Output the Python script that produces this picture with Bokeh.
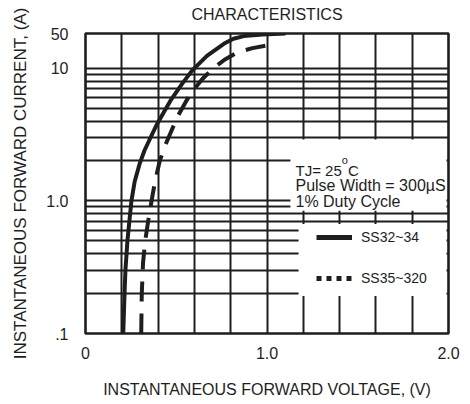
import numpy as np
from bokeh.plotting import figure
from bokeh.models import (Range1d, FixedTicker, BoxAnnotation, Label, Legend, LegendItem)
from bokeh.embed import file_html
from bokeh.resources import INLINE

# ---- data ----
ss32_v = [0.208, 0.215, 0.220, 0.231, 0.253, 0.271, 0.298, 0.325, 0.363, 0.390,
          0.429, 0.468, 0.531, 0.587, 0.669, 0.762, 0.815, 0.872, 0.975, 1.102]
ss32_i = [0.1, 0.2, 0.3, 0.5, 1.0, 1.4, 1.9, 2.4, 3.1, 3.7,
          4.6, 5.7, 7.6, 9.6, 12.4, 15.3, 16.7, 17.5, 18.0, 18.3]

ss35_v = [0.307, 0.310, 0.317, 0.329, 0.345, 0.364, 0.383, 0.409, 0.438, 0.466,
          0.510, 0.556, 0.600, 0.644, 0.700, 0.766, 0.832, 0.920, 0.992]
ss35_i = [0.1, 0.2, 0.34, 0.5, 0.7, 1.0, 1.4, 2.0, 2.6, 3.2,
          4.4, 5.7, 7.0, 8.3, 9.9, 11.6, 13.1, 14.2, 14.8]

series_names = ["SS32~34", "SS35~320"]

x_ticks = [0, 1, 2]
x_tick_labels = ["0", "1.0", "2.0"]
x_minor = [0.2, 0.4, 0.6, 0.8, 1.2, 1.4, 1.6, 1.8]
y_top = 18.3
y_ticks = [0.1, 1, 10, y_top]
y_tick_labels = [".1", "1.0", "10", "50"]
y_minor = [0.2, 0.3, 0.4, 0.5, 0.6, 0.7, 0.8, 0.9, 2, 3, 4, 5, 6, 7, 8, 9]

INK = "#1e1e1e"
FONT = "Liberation Sans"

p = figure(width=466, height=413, output_backend="svg", toolbar_location=None,
           y_axis_type="log", x_range=Range1d(0, 2), y_range=Range1d(0.1, y_top),
           min_border_left=85, min_border_right=18, min_border_top=44, min_border_bottom=69,
           background_fill_color="white", border_fill_color="white")
p.margin = (-11, 0, 0, 0)

p.title.text = "CHARACTERISTICS"
p.title.text_font = FONT
p.title.text_font_size = "16px"
p.title.text_font_style = "normal"
p.title.text_color = INK
p.title.align = "center"
p.title.offset = -6
p.title.vertical_align = "top"
p.title.standoff = 17

p.outline_line_color = INK
p.outline_line_width = 2.6

# axes
p.xaxis.ticker = FixedTicker(ticks=x_ticks, minor_ticks=x_minor)
p.xaxis.major_label_overrides = dict(zip(x_ticks, x_tick_labels))
p.yaxis.ticker = FixedTicker(ticks=y_ticks, minor_ticks=y_minor)
p.yaxis.major_label_overrides = dict(zip(y_ticks, y_tick_labels))
p.xaxis.axis_label = "INSTANTANEOUS FORWARD VOLTAGE, (V)"
p.yaxis.axis_label = "INSTANTANEOUS FORWARD CURRENT, (A)"
for ax in (p.xaxis[0], p.yaxis[0]):
    ax.axis_line_color = None
    ax.major_tick_in = 0
    ax.major_tick_out = 0
    ax.minor_tick_in = 0
    ax.minor_tick_out = 0
    ax.major_label_text_font = FONT
    ax.major_label_text_font_size = "16px"
    ax.major_label_text_color = INK
    ax.axis_label_text_font = FONT
    ax.axis_label_text_font_style = "normal"
    ax.axis_label_text_color = INK
p.xaxis.axis_label_text_font_size = "16px"
p.yaxis.axis_label_text_font_size = "17px"
p.xaxis.major_label_standoff = 13
p.xaxis.axis_label_standoff = 19
p.yaxis.major_label_standoff = 17
p.yaxis.axis_label_standoff = 13

# grid
for g in (p.xgrid[0], p.ygrid[0]):
    g.grid_line_color = INK
    g.grid_line_width = 2
    g.minor_grid_line_color = INK
    g.minor_grid_line_width = 2

# curves
p.line(ss32_v, ss32_i, line_color=INK, line_width=4, line_join="round")
p.line(ss35_v, ss35_i, line_color=INK, line_width=4, line_dash="20 12", line_join="round")

# white boxes for annotation text and legend
p.add_layout(BoxAnnotation(left=1.129, right=1.989, bottom=0.841, top=2.909,
                           fill_color="white", fill_alpha=1, line_alpha=0))
p.add_layout(BoxAnnotation(left=1.174, right=1.989, bottom=0.192, top=0.671,
                           fill_color="white", fill_alpha=1, line_alpha=0))

def lab(x, y, t, size):
    p.add_layout(Label(x=x, y=y, text=t, text_font=FONT, text_font_size=size,
                       text_color=INK, text_baseline="alphabetic", text_align="left"))

lab(1.157, 1.704, "TJ= 25", "15px")
lab(1.412, 2.028, "o", "11px")
lab(1.446, 1.704, "C", "15px")
lab(1.157, 1.297, "Pulse Width = 300\u00b5S", "16px")
lab(1.157, 0.988, "1% Duty Cycle", "16px")

# legend sample glyphs (renderers carry no visible points)
nan1 = np.array([np.nan])
r1 = p.line(nan1, nan1, line_color=INK, line_width=5)
r2 = p.line(nan1, nan1, line_color=INK, line_width=5, line_dash="5 5")
legend = Legend(items=[LegendItem(label=series_names[0], renderers=[r1]),
                       LegendItem(label=series_names[1], renderers=[r2])],
                location=(231, 45), orientation="vertical",
                glyph_width=36, glyph_height=20, label_height=20, spacing=21,
                padding=0, margin=0, label_standoff=9,
                border_line_color=None, background_fill_alpha=0,
                label_text_font=FONT, label_text_font_size="14px", label_text_color=INK)
p.add_layout(legend)

open("out.html", "w").write(file_html(p, INLINE))
